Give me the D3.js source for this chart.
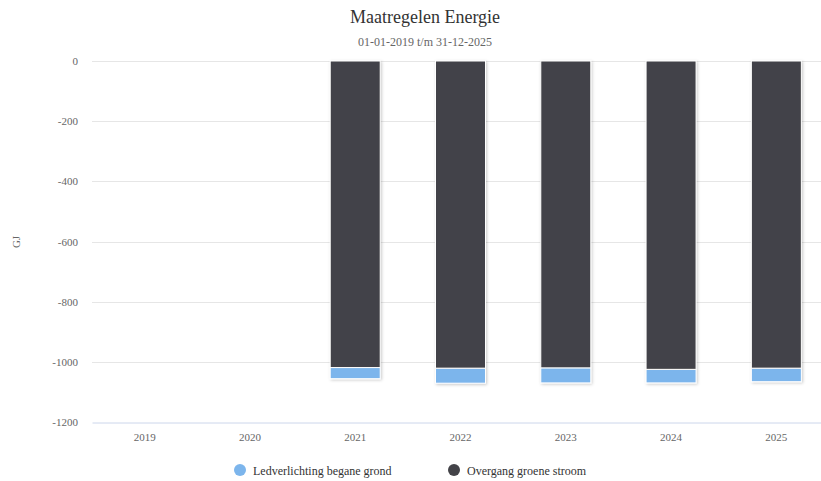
<!DOCTYPE html>
<html>
<head>
<meta charset="utf-8">
<script src="https://cdn.jsdelivr.net/npm/d3@7"></script>
<style>
  body { margin: 0; background: #fff; }
  svg { display: block; font-family: "Liberation Serif", "DejaVu Serif", serif; }
</style>
</head>
<body>
<div class="chart"></div>
<script>
// Data
let years = ["2019", "2020", "2021", "2022", "2023", "2024", "2025"];
let ledverlichting = [0, 0, -37, -50, -50, -45, -45];
let groeneStroom = [0, 0, -1019, -1021, -1020, -1025, -1021];
let yTicks = [0, -200, -400, -600, -800, -1000, -1200];
let seriesNames = ["Ledverlichting begane grond", "Overgang groene stroom"];
let seriesColors = ["#7cb5ec", "#434348"];

let width = 821;
let height = 481;
let margin = { top: 61, right: -8, bottom: 59, left: 92 };

let svg = d3
  .select(".chart")
  .append("svg")
  .attr("width", width)
  .attr("height", height);

// shadow filter for bars
let defs = svg.append("defs");
let filter = defs
  .append("filter")
  .attr("id", "shadow")
  .attr("x", "-20%")
  .attr("y", "-5%")
  .attr("width", "140%")
  .attr("height", "110%");
filter
  .append("feDropShadow")
  .attr("dx", 1)
  .attr("dy", 1)
  .attr("stdDeviation", 1.4)
  .attr("flood-color", "#000")
  .attr("flood-opacity", 0.22);

// Scales
let x = d3
  .scaleBand()
  .domain(years)
  .range([margin.left, width - margin.right])
  .paddingInner(0)
  .paddingOuter(0);

let y = d3
  .scaleLinear()
  .domain([-1200, 0])
  .range([height - margin.bottom, margin.top]);

// Title
svg
  .append("text")
  .attr("x", 425)
  .attr("y", 23)
  .attr("text-anchor", "middle")
  .attr("fill", "#333333")
  .style("font-size", "18px")
  .text("Maatregelen Energie");

svg
  .append("text")
  .attr("x", 425)
  .attr("y", 46)
  .attr("text-anchor", "middle")
  .attr("fill", "#666666")
  .style("font-size", "12px")
  .text("01-01-2019 t/m 31-12-2025");

// Gridlines
svg
  .append("g")
  .attr("class", "grid")
  .selectAll("line")
  .data(yTicks.filter((d) => d !== -1200))
  .enter()
  .append("line")
  .attr("x1", margin.left)
  .attr("x2", width)
  .attr("y1", (d) => Math.round(y(d)) + 0.5)
  .attr("y2", (d) => Math.round(y(d)) + 0.5)
  .attr("stroke", "#e6e6e6")
  .attr("stroke-width", 1);

// Y axis labels
let yAxis = d3
  .axisLeft(y)
  .tickValues(yTicks)
  .tickFormat((d) => String(d))
  .tickSize(0)
  .tickPadding(14);

let yG = svg
  .append("g")
  .attr("transform", `translate(${margin.left},0)`)
  .call(yAxis);
yG.select(".domain").remove();
yG.selectAll("text")
  .attr("fill", "#666666")
  .style("font-size", "11px")
  .style("font-family", "Liberation Serif, serif");

svg
  .append("text")
  .attr("transform", "translate(20,242) rotate(-90)")
  .attr("text-anchor", "middle")
  .attr("fill", "#666666")
  .style("font-size", "11px")
  .text("GJ");

// Bars
let stacks = years.map(function (yr, i) {
  let top = groeneStroom[i];
  let bottom = top + ledverlichting[i];
  return {
    year: yr,
    parts: [
      { y0: top, y1: bottom, color: seriesColors[0] },
      { y0: 0, y1: top, color: seriesColors[1] },
    ],
  };
});

let barWidth = 50;

let barGroups = svg
  .append("g")
  .attr("class", "bars")
  .selectAll("g")
  .data(stacks.filter((d) => d.parts[1].y1 !== 0))
  .enter()
  .append("g")
  .attr("filter", "url(#shadow)");

barGroups
  .selectAll("rect")
  .data((d) => d.parts.map((p) => Object.assign({ year: d.year }, p)))
  .enter()
  .append("rect")
  .attr("x", (d) => x(d.year) + x.bandwidth() / 2 - barWidth / 2)
  .attr("width", barWidth)
  .attr("y", (d) => y(d.y0))
  .attr("height", (d) => y(d.y1) - y(d.y0))
  .attr("fill", (d) => d.color)
  .attr("stroke", "#ffffff")
  .attr("stroke-width", 1);

// X axis
let xAxis = d3.axisBottom(x).tickSize(0).tickPadding(11);
let xG = svg
  .append("g")
  .attr("transform", `translate(0,${Math.round(y(-1200)) + 0.5})`)
  .call(xAxis);
xG.select(".domain").attr("stroke", "#ccd6eb");
xG.selectAll("text")
  .attr("fill", "#666666")
  .style("font-size", "11px")
  .style("font-family", "Liberation Serif, serif");

// Legend
let legendX = [240, 454];
let legend = svg
  .append("g")
  .attr("class", "legend")
  .selectAll("g")
  .data(seriesNames)
  .enter()
  .append("g")
  .attr("transform", (d, i) => `translate(${legendX[i]},470)`);

legend
  .append("circle")
  .attr("r", 6)
  .attr("fill", (d, i) => seriesColors[i]);

legend
  .append("text")
  .attr("x", 13)
  .attr("y", 4.5)
  .attr("fill", "#333333")
  .style("font-size", "12px")
  .text((d) => d);
</script>
</body>
</html>
